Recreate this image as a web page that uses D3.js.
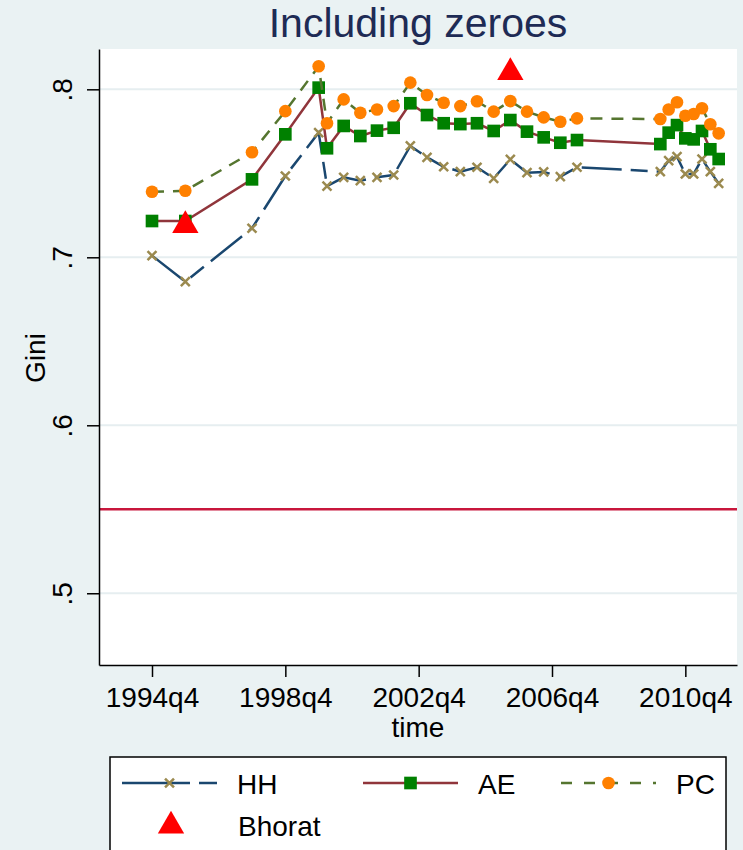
<!DOCTYPE html>
<html>
<head>
<meta charset="utf-8">
<script src="https://cdn.jsdelivr.net/npm/d3@7"></script>
<style>
  body { margin: 0; background: #eaf2f3; }
  text { font-family: "Liberation Sans", Arial, sans-serif; }
</style>
</head>
<body>
<div id="chart"></div>
<script>
// survey dates (quarters)
const times = ["1994q4", "1995q4", "1997q4", "1998q4", "1999q4", "2000q1", "2000q3", "2001q1", "2001q3",
    "2002q1", "2002q3", "2003q1", "2003q3", "2004q1", "2004q3", "2005q1", "2005q3", "2006q1", "2006q3",
    "2007q1", "2007q3", "2010q1", "2010q2", "2010q3", "2010q4", "2011q1", "2011q2", "2011q3", "2011q4"];

const hh = [.701, .6855, .7173, .7484, .7742, .7424, .7476, .7456, .7476, .749, .7663, .7595, .7539, .751,
    .7536, .747, .7583, .7504, .7508, .748, .7536, .751, .7575, .7599, .7496, .7496, .7585, .751, .744];
const ae = [.7216, .7216, .7464, .7732, .801, .7649, .7782, .7722, .7754, .7771, .7917, .7847, .7798, .7793,
    .7798, .7752, .7817, .7748, .7714, .7682, .7698, .7674, .7742, .7787, .7708, .7702, .7752, .7643, .7585];
const pc = [.739, .7396, .7625, .787, .8137, .7798, .794, .786, .788, .790, .804, .7966, .792, .790,
    .7929, .7867, .793, .7867, .7833, .7807, .7827, .7823, .788, .7923, .7843, .7853, .7887, .7792, .7738];

const bhoratTimes = ["1995q4", "2005q3"];
const bhorat = [.719, .81];

const refLine = .55;
const xTicks = ["1994q4", "1998q4", "2002q4", "2006q4", "2010q4"];
const yTicks = [.5, .6, .7, .8];

const W = 743, H = 850;
const plot = { left: 99, right: 737, top: 49, bottom: 665 };

function qi(s) {
    return +s.slice(0, 4) * 4 + (+s.slice(5) - 1);
}

const svg = d3.select("#chart").append("svg")
    .attr("width", W)
    .attr("height", H);

svg.append("rect").attr("width", W).attr("height", H).attr("fill", "#eaf2f3");
svg.append("rect")
    .attr("x", plot.left).attr("y", plot.top)
    .attr("width", plot.right - plot.left).attr("height", plot.bottom - plot.top)
    .attr("fill", "#fff");

const q0 = qi("1994q4");
const x = d3.scaleLinear()
    .domain([q0 - 6.36, q0 + 70.2])
    .range([plot.left, plot.right]);

const y = d3.scaleLinear()
    .domain([.4573, .824])
    .range([plot.bottom, plot.top]);

// grid
svg.append("g").selectAll("line")
    .data(yTicks)
    .enter().append("line")
    .attr("x1", plot.left).attr("x2", plot.right)
    .attr("y1", d => y(d)).attr("y2", d => y(d))
    .attr("stroke", "#e6eef0")
    .attr("stroke-width", 2);

// reference line
svg.append("line")
    .attr("x1", plot.left).attr("x2", plot.right)
    .attr("y1", y(refLine)).attr("y2", y(refLine))
    .attr("stroke", "#c8173c")
    .attr("stroke-width", 2.5);

// axes
const xAxis = svg.append("g")
    .attr("transform", `translate(0,${plot.bottom})`)
    .call(d3.axisBottom(x)
        .tickValues(xTicks.map(qi))
        .tickFormat((d, i) => xTicks[i])
        .tickSize(12).tickSizeOuter(0).tickPadding(10));
xAxis.selectAll("text").attr("font-size", 28).attr("fill", "#000")
    .style("font-family", "'Liberation Sans', Arial, sans-serif");

const yAxis = svg.append("g")
    .attr("transform", `translate(${plot.left},0)`)
    .call(d3.axisLeft(y)
        .tickValues(yTicks)
        .tickFormat(d => d3.format(".1f")(d).replace(/^0/, ""))
        .tickSize(12).tickSizeOuter(0));
yAxis.selectAll("text")
    .attr("transform", "rotate(-90)")
    .attr("x", 0).attr("y", -27).attr("dy", 0)
    .attr("text-anchor", "middle")
    .attr("font-size", 28).attr("fill", "#000")
    .style("font-family", "'Liberation Sans', Arial, sans-serif");

[xAxis, yAxis].forEach(a => {
    a.select(".domain").attr("stroke", "#000").attr("stroke-width", 1.5);
    a.selectAll(".tick line").attr("stroke", "#000").attr("stroke-width", 1.5);
});

// titles
svg.append("text")
    .attr("x", (plot.left + plot.right) / 2).attr("y", 37)
    .attr("text-anchor", "middle")
    .attr("font-size", 41)
    .attr("fill", "#1e2b55")
    .text("Including zeroes");

svg.append("text")
    .attr("x", (plot.left + plot.right) / 2).attr("y", 737)
    .attr("text-anchor", "middle")
    .attr("font-size", 28)
    .text("time");

svg.append("text")
    .attr("transform", "translate(45,358) rotate(-90)")
    .attr("text-anchor", "middle")
    .attr("font-size", 28)
    .text("Gini");

// series
const series = [
    { name: "HH", values: hh, line: "#1a476f", dash: "40,9,17,9", legendDash: "68,9,18", marker: "x", mcolor: "#9b8a4f" },
    { name: "AE", values: ae, line: "#90353b", dash: null, legendDash: null, marker: "square", mcolor: "#008000" },
    { name: "PC", values: pc, line: "#55752f", dash: "12,9", legendDash: "11,12", marker: "circle", mcolor: "#ff8000" }
];

const line = d3.line()
    .x(d => x(qi(d.t)))
    .y(d => y(d.v));

function drawMarker(g, type, color) {
    if (type === "x") {
        g.append("path")
            .attr("d", d3.symbol(d3.symbolX, 54)())
            .attr("fill", "none")
            .attr("stroke", color)
            .attr("stroke-width", 2.5);
    } else if (type === "square") {
        g.append("path")
            .attr("d", d3.symbol(d3.symbolSquare, 160)())
            .attr("fill", color);
    } else if (type === "circle") {
        g.append("path")
            .attr("d", d3.symbol(d3.symbolCircle, 125)())
            .attr("fill", color);
    } else if (type === "triangle") {
        g.append("path")
            .attr("d", d3.symbol(d3.symbolTriangle, 300)())
            .attr("fill", color);
    }
}

series.forEach(s => {
    const pts = times.map((t, i) => ({ t: t, v: s.values[i] }));
    svg.append("path")
        .datum(pts)
        .attr("d", line)
        .attr("fill", "none")
        .attr("stroke", s.line)
        .attr("stroke-width", 2.5)
        .attr("stroke-dasharray", s.dash);

    svg.append("g").selectAll("g")
        .data(pts)
        .enter().append("g")
        .attr("transform", d => `translate(${x(qi(d.t))},${y(d.v)})`)
        .each(function () { drawMarker(d3.select(this), s.marker, s.mcolor); });
});

// Bhorat estimates
svg.append("g").selectAll("g")
    .data(bhoratTimes.map((t, i) => ({ t: t, v: bhorat[i] })))
    .enter().append("g")
    .attr("transform", d => `translate(${x(qi(d.t))},${y(d.v)})`)
    .each(function () { drawMarker(d3.select(this), "triangle", "#ff0000"); });

// legend
const legend = svg.append("g");
legend.append("rect")
    .attr("x", 110).attr("y", 757)
    .attr("width", 616).attr("height", 120)
    .attr("fill", "#fff")
    .attr("stroke", "#000")
    .attr("stroke-width", 1.5);

const legendX = [122, 363, 561];
series.forEach((s, i) => {
    const x0 = legendX[i], x1 = x0 + 95, ly = 783;
    legend.append("line")
        .attr("x1", x0).attr("x2", x1)
        .attr("y1", ly).attr("y2", ly)
        .attr("stroke", s.line)
        .attr("stroke-width", 2.5)
        .attr("stroke-dasharray", s.legendDash);
    const g = legend.append("g").attr("transform", `translate(${(x0 + x1) / 2},${ly})`);
    drawMarker(g, s.marker, s.mcolor);
    legend.append("text")
        .attr("x", x1 + 20).attr("y", 794)
        .attr("font-size", 28)
        .text(s.name);
});

const tg = legend.append("g").attr("transform", "translate(171,826)");
drawMarker(tg, "triangle", "#ff0000");
legend.append("text")
    .attr("x", 238).attr("y", 836)
    .attr("font-size", 28)
    .text("Bhorat");
</script>
</body>
</html>
